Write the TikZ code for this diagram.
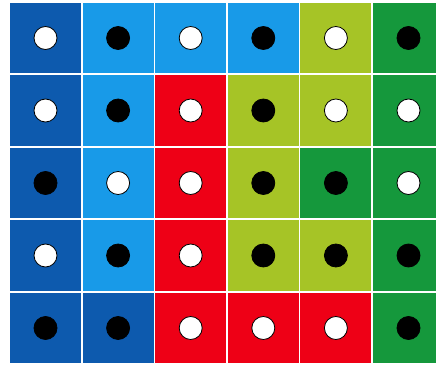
\documentclass[tikz,border=0pt]{standalone}
\usepackage{xcolor}
\usepackage{tikz}
\definecolor{dblue}{HTML}{0D5AAE}
\definecolor{lblue}{HTML}{189AE8}
\definecolor{pred}{HTML}{EE0016}
\definecolor{lime}{HTML}{A6C426}
\definecolor{dgreen}{HTML}{15983C}
\tikzset{
  cell/.style={
    shape = rectangle,
    draw = white,
    line width = 1.6pt,
    minimum width = 72.6pt,
    minimum height = 72.5pt,
    inner sep = 0pt
  },
  dotW/.style={
    shape = circle,
    minimum size = 23pt,
    inner sep = 0pt,
    draw = black,
    line width = 0.8pt,
    fill = white
  },
  dotB/.style={
    dotW,
    fill = black
  }
}

\begin{document}
\begin{tikzpicture}[x=1pt,y=1pt]
    \useasboundingbox (0,0) rectangle (436,-366);
    \clip (0,0) rectangle (436,-366);
    % rows of the board, colour/dot per cell
    \foreach \cells [count=\r] in {
        {dblue/dotW,lblue/dotB,lblue/dotW,lblue/dotB,lime/dotW,dgreen/dotB},
        {dblue/dotW,lblue/dotB,pred/dotW,lime/dotB,lime/dotW,dgreen/dotW},
        {dblue/dotB,lblue/dotW,pred/dotW,lime/dotB,dgreen/dotB,dgreen/dotW},
        {dblue/dotW,lblue/dotB,pred/dotW,lime/dotB,lime/dotB,dgreen/dotB},
        {dblue/dotB,dblue/dotB,pred/dotW,pred/dotW,pred/dotW,dgreen/dotB}} {
        \foreach \col/\dt [count=\c] in \cells {
            \node[cell, fill=\col] (c\r\c) at ({45.5+72.6*(\c-1)},{-(38+72.5*(\r-1))}) {};
            \node[\dt] (d\r\c) at (c\r\c) {};
        }
    }
\end{tikzpicture}
\end{document}
